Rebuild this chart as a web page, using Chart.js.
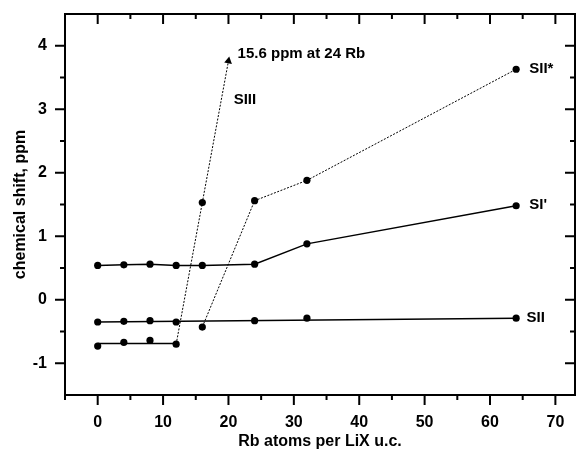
<!DOCTYPE html>
<html>
<head>
<meta charset="utf-8">
<title>chemical shift vs Rb loading</title>
<script src="https://cdn.jsdelivr.net/npm/chart.js@4/dist/chart.umd.min.js"></script>
<style>
  html, body { margin: 0; padding: 0; background: #ffffff; }
  #chart { display: block; }
</style>
</head>
<body>
<canvas id="chart" width="576" height="453"></canvas>
<script>
/*global document, window, Chart*/
/*jslint indent: 2, maxerr: 3 */

// SI' sites
var siX = [0, 4, 8, 12, 16, 24, 32, 64];
var siY = [0.54, 0.55, 0.56, 0.54, 0.54, 0.56, 0.88, 1.48];

// SII sites (points + straight trend line)
var siiX = [0, 4, 8, 12, 24, 32, 64];
var siiY = [-0.35, -0.34, -0.33, -0.35, -0.33, -0.29, -0.29];
var siiLineX = [0, 64];
var siiLineY = [-0.35, -0.29];

// SIII sites at low loading (points + flat line)
var lowX = [0, 4, 8, 12];
var lowY = [-0.73, -0.67, -0.64, -0.70];
var lowLineX = [0, 12];
var lowLineY = [-0.69, -0.69];

// SIII rise, ends in an arrow (off scale: 15.6 ppm at 24 Rb)
var riseX = [12, 16, 20];
var riseY = [-0.70, 1.53, 3.76];

// SII* sites
var starX = [16, 24, 32, 64];
var starY = [-0.43, 1.56, 1.88, 3.63];

// axes
var xTicks = [0, 10, 20, 30, 40, 50, 60, 70];
var xMinor = [-5, 5, 15, 25, 35, 45, 55, 65];
var yTicks = [-1, 0, 1, 2, 3, 4];
var yMinor = [-0.5, 0.5, 1.5, 2.5, 3.5];

// text notes, in data units
var noteText = ["SII*", "SI'", "SII", "SIII", "15.6 ppm at 24 Rb"];
var noteX = [66, 66, 65.6, 20.8, 21.4];
var noteY = [3.63, 1.5, -0.29, 3.15, 3.87];

(function (document, Chart) {
  "use strict";

  var FONT = "'Liberation Sans', Arial, Helvetica, sans-serif";

  function pairs(xs, ys) {
    var i, out = [];
    for (i = 0; i < xs.length; i += 1) {
      out.push({x: xs[i], y: ys[i]});
    }
    return out;
  }

  function pointSet(xs, ys) {
    return {
      data: pairs(xs, ys),
      showLine: false,
      pointRadius: 3.6,
      pointBackgroundColor: "#000",
      pointBorderColor: "#000",
      pointBorderWidth: 0
    };
  }

  function lineSet(xs, ys, dashed) {
    return {
      data: pairs(xs, ys),
      showLine: true,
      borderColor: "#000",
      borderWidth: dashed ? 1 : 1.5,
      borderDash: dashed ? [2, 1.5] : [],
      pointRadius: 0,
      tension: 0
    };
  }

  function tickList(values) {
    return function (scale) {
      scale.ticks = values.map(function (v) {
        return {value: v};
      });
    };
  }

  // pin the plot box: no extra room for overhanging labels
  function noPad(scale) {
    scale.paddingLeft = 0;
    scale.paddingRight = 0;
    scale.paddingTop = 0;
    scale.paddingBottom = 0;
  }

  // frame with mirrored ticks, plus the text notes
  var framePlugin = {
    id: "frame",
    afterDraw: function (chart) {
      var ctx = chart.ctx,
        a = chart.chartArea,
        sx = chart.scales.x,
        sy = chart.scales.y,
        i,
        p;

      ctx.save();
      ctx.strokeStyle = "#000";
      ctx.lineWidth = 2;
      ctx.strokeRect(a.left, a.top, a.right - a.left, a.bottom - a.top);

      function xTick(v, len) {
        p = sx.getPixelForValue(v);
        ctx.moveTo(p, a.bottom);
        ctx.lineTo(p, a.bottom + len);
        ctx.moveTo(p, a.top);
        ctx.lineTo(p, a.top + len);
      }
      function yTick(v, len) {
        p = sy.getPixelForValue(v);
        ctx.moveTo(a.left - len, p);
        ctx.lineTo(a.left, p);
        ctx.moveTo(a.right, p);
        ctx.lineTo(a.right - len, p);
      }

      ctx.beginPath();
      for (i = 0; i < xTicks.length; i += 1) { xTick(xTicks[i], 10); }
      for (i = 0; i < xMinor.length; i += 1) { xTick(xMinor[i], 5); }
      for (i = 0; i < yTicks.length; i += 1) { yTick(yTicks[i], 10); }
      for (i = 0; i < yMinor.length; i += 1) { yTick(yMinor[i], 5); }
      ctx.stroke();

      ctx.fillStyle = "#000";
      ctx.font = "bold 15px " + FONT;
      ctx.textAlign = "left";
      ctx.textBaseline = "middle";
      for (i = 0; i < noteText.length; i += 1) {
        ctx.fillText(noteText[i], sx.getPixelForValue(noteX[i]),
          sy.getPixelForValue(noteY[i]));
      }
      ctx.restore();
    }
  };

  var rise = lineSet(riseX, riseY, true);
  rise.pointRadius = [0, 3.6, 4.5];
  rise.pointStyle = ["circle", "circle", "triangle"];
  rise.rotation = [0, 0, 10];
  rise.pointBackgroundColor = "#000";
  rise.pointBorderColor = "#000";
  rise.pointBorderWidth = 0;

  var star = lineSet(starX, starY, true);
  star.pointRadius = 3.6;
  star.pointBackgroundColor = "#000";
  star.pointBorderWidth = 0;

  var si = lineSet(siX, siY, false);
  si.pointRadius = 3.6;
  si.pointBackgroundColor = "#000";
  si.pointBorderWidth = 0;

  new Chart(document.getElementById("chart"), {
    type: "scatter",
    data: {
      datasets: [
        si,
        lineSet(siiLineX, siiLineY, false),
        pointSet(siiX, siiY),
        lineSet(lowLineX, lowLineY, false),
        pointSet(lowX, lowY),
        rise,
        star
      ]
    },
    options: {
      responsive: false,
      animation: false,
      devicePixelRatio: 1,
      layout: {
        autoPadding: false,
        padding: {top: 14, right: 1, left: 0, bottom: 0}
      },
      plugins: {
        legend: {display: false},
        tooltip: {enabled: false}
      },
      scales: {
        x: {
          type: "linear",
          min: -5,
          max: 73,
          afterBuildTicks: tickList(xTicks),
          afterFit: function (scale) {
            scale.height = 58;
            noPad(scale);
          },
          grid: {display: false},
          border: {display: false},
          ticks: {
            padding: 10,
            color: "#000",
            font: {family: FONT, size: 16, weight: "bold"}
          },
          title: {
            display: true,
            text: "Rb atoms per LiX u.c.",
            color: "#000",
            font: {family: FONT, size: 16, weight: "bold"},
            padding: {top: 0, bottom: 2}
          }
        },
        y: {
          type: "linear",
          min: -1.5,
          max: 4.5,
          afterBuildTicks: tickList(yTicks),
          afterFit: function (scale) {
            scale.width = 65;
            noPad(scale);
          },
          grid: {display: false},
          border: {display: false},
          ticks: {
            padding: 10,
            color: "#000",
            font: {family: FONT, size: 16, weight: "bold"}
          },
          title: {
            display: true,
            text: "chemical shift, ppm",
            color: "#000",
            font: {family: FONT, size: 16, weight: "bold"},
            padding: {top: 11, bottom: 0}
          }
        }
      }
    },
    plugins: [framePlugin]
  });
}(document, Chart));
</script>
</body>
</html>
